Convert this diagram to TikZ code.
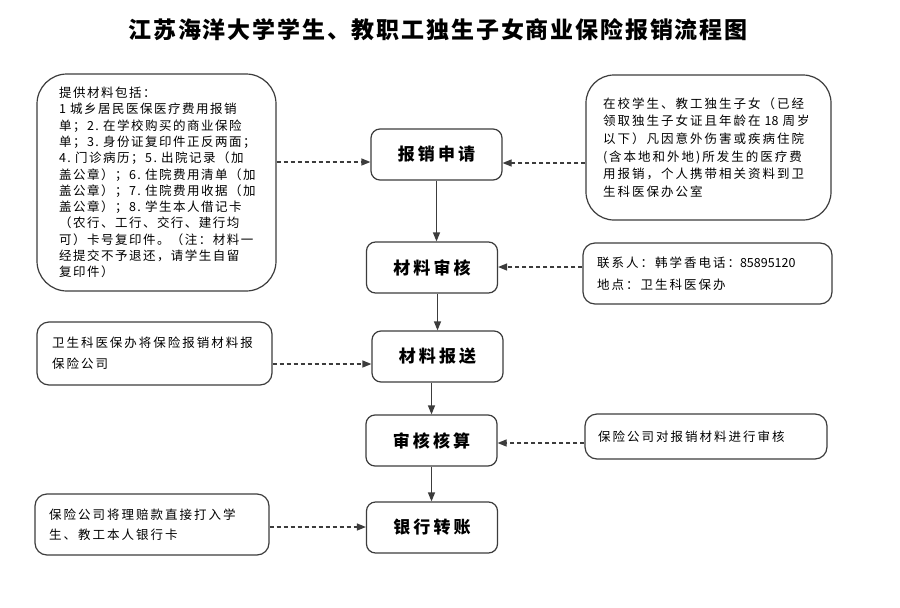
\documentclass[tikz,border=0pt]{standalone}
\usepackage{fontspec}
\usetikzlibrary{arrows.meta}
\newfontfamily\cjk[LetterSpace=16]{Noto Sans CJK SC}
\newfontfamily\cjkl[LetterSpace=12]{Noto Sans CJK SC}
\newfontfamily\cjkn{Noto Sans CJK SC}
\newfontfamily\cjkt[LetterSpace=8]{Noto Sans CJK SC}
\newfontfamily\cjkc[LetterSpace=18]{Noto Sans CJK SC}
\definecolor{linec}{HTML}{3C3C3C}
\begin{document}
\begin{tikzpicture}[x=1pt,y=-1pt,
  stepbox/.style={draw=linec, line width=1.2pt, rounded corners=9pt, inner sep=0pt,
    minimum width=131pt, minimum height=51pt,
    font=\cjkc\bfseries\fontsize{17}{20}\selectfont},
  sidebox/.style={draw=linec, line width=1.2pt, rounded corners=12pt, inner sep=0pt, align=left},
  flow/.style={draw=linec, line width=1.2pt, -{Triangle[length=9pt,width=7pt]}},
  note/.style={draw=linec, line width=1.2pt, dash pattern=on 4pt off 3pt, -{Triangle[length=9pt,width=7pt]}}
]
\useasboundingbox (0,0) rectangle (900,608);
\fill[white] (0,0) rectangle (900,608);

\node[font=\cjkt\bfseries\fontsize{23}{26}\selectfont] (title) at (438,29.5)
  {江苏海洋大学学生、教职工独生子女商业保险报销流程图};

% main steps
\node[stepbox] (A) at (436.5,154.5) {报销申请};
\node[stepbox] (B) at (432,267.5) {材料审核};
\node[stepbox] (C) at (437.5,356.5) {材料报送};
\node[stepbox] (D) at (431.5,440.5) {审核核算};
\node[stepbox] (E) at (432,527.5) {银行转账};

% side notes
\node[sidebox, rounded corners=30pt, minimum width=239pt, minimum height=217pt, text width=195pt,
  font=\cjkl\fontsize{12.5}{16.3}\selectfont] (L1) at (156.5,182.5)
  {提供材料包括：\\
   1~城乡居民医保医疗费用报销\\
   单；2.~在学校购买的商业保险\\
   单；3.~身份证复印件正反两面；\\
   4.~门诊病历；5.~出院记录（加\\
   盖公章）；6.~住院费用清单（加\\
   盖公章）；7.~住院费用收据（加\\
   盖公章）；8.~学生本人借记卡\\
   （农行、工行、交行、建行均\\
   可）卡号复印件。（注：材料一\\
   经提交不予退还，请学生自留\\
   复印件）};

\node[sidebox, rounded corners=28pt, minimum width=245pt, minimum height=145pt, text width=211pt,
  font=\cjk\fontsize{12.5}{17.7}\selectfont] (R1) at (708.5,147.5)
  {在校学生、教工独生子女（已经\\
   领取独生子女证且年龄在~{\cjkn 18}~周岁\\
   以下）凡因意外伤害或疾病住院\\
   (含本地和外地)所发生的医疗费\\
   用报销，个人携带相关资料到卫\\
   生科医保办公室};

\node[sidebox, minimum width=249pt, minimum height=61pt, text width=221pt,
  font=\cjk\fontsize{12.5}{22}\selectfont] (R2) at (707.5,273.5)
  {联系人：韩学香电话：{\cjkn 85895120}\\
   地点：卫生科医保办};

\node[sidebox, minimum width=235pt, minimum height=63pt, text width=205pt,
  font=\cjk\fontsize{12.5}{21}\selectfont] (L3) at (154.5,353.5)
  {卫生科医保办将保险报销材料报\\
   保险公司};

\node[sidebox, minimum width=242pt, minimum height=45pt, text width=216pt,
  font=\cjk\fontsize{12.5}{20}\selectfont] (R4) at (706,436.5)
  {保险公司对报销材料进行审核};

\node[sidebox, minimum width=234pt, minimum height=61pt, text width=206pt,
  font=\cjk\fontsize{12.5}{20}\selectfont] (L5) at (152,524.5)
  {保险公司将理赔款直接打入学\\
   生、教工本人银行卡};

% levels of the dashed connectors
\coordinate (y1) at (0,162);
\coordinate (y2) at (0,163);
\coordinate (y3) at (0,267);
\coordinate (y4) at (0,364);
\coordinate (y5) at (0,443);
\coordinate (y6) at (0,527);

% flow arrows
\draw[flow] (A.south) -- (A.south |- B.north);
\draw[flow] (B.south -| C.north) -- (C.north);
\draw[flow] (C.south -| D.north) -- (D.north);
\draw[flow] (D.south) -- (D.south |- E.north);

% dashed note arrows
\draw[note] (L1.east |- y1) -- (A.west |- y1);
\draw[note] (R1.west |- y2) -- (A.east |- y2);
\draw[note] (R2.west |- y3) -- (B.east |- y3);
\draw[note] (L3.east |- y4) -- (C.west |- y4);
\draw[note] (R4.west |- y5) -- (D.east |- y5);
\draw[note] (L5.east |- y6) -- (E.west |- y6);
\end{tikzpicture}
\end{document}
